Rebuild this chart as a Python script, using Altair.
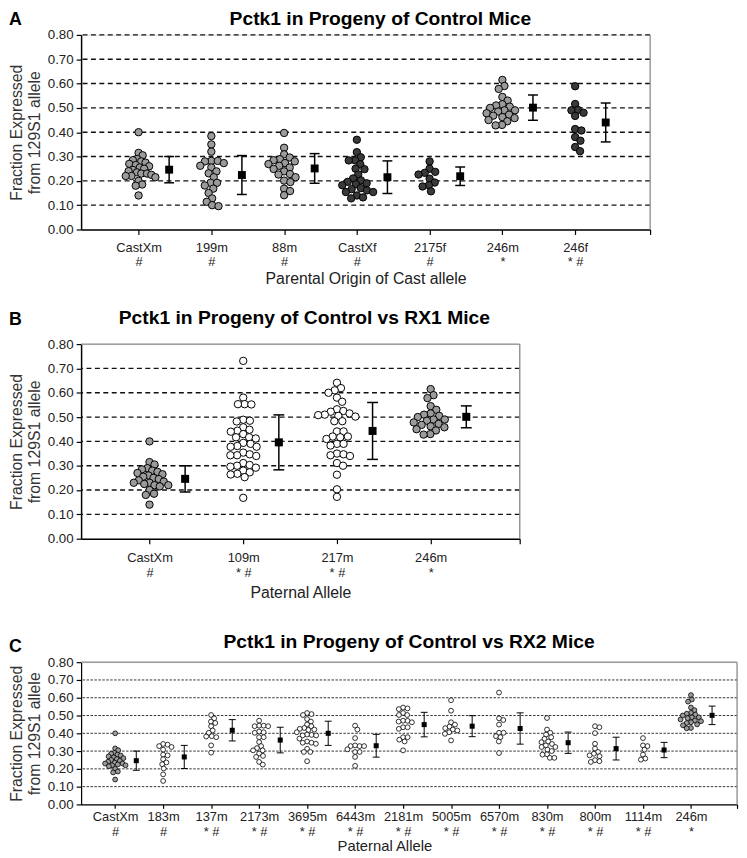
import altair as alt
import pandas as pd

# ---------------- data ----------------
castxm = [0.40, 0.315, 0.305, 0.29, 0.285, 0.28, 0.275, 0.27, 0.265, 0.26, 0.255, 0.25,
          0.245, 0.24, 0.235, 0.23, 0.23, 0.225, 0.22, 0.22, 0.215, 0.20, 0.185, 0.18, 0.14]
g199m = [0.384, 0.35, 0.32, 0.282, 0.282, 0.28, 0.273, 0.262, 0.255, 0.239, 0.231, 0.215,
         0.192, 0.192, 0.181, 0.168, 0.15, 0.128, 0.114, 0.10, 0.096]
g88m = [0.397, 0.336, 0.309, 0.296, 0.289, 0.285, 0.28, 0.273, 0.269, 0.262, 0.255, 0.249,
        0.239, 0.228, 0.226, 0.215, 0.201, 0.195, 0.168, 0.158, 0.141]
castxf = [0.369, 0.318, 0.297, 0.284, 0.284, 0.268, 0.25, 0.248, 0.226, 0.21, 0.202, 0.196,
          0.19, 0.186, 0.182, 0.17, 0.166, 0.161, 0.154, 0.154, 0.14, 0.132, 0.128]
g2175f = [0.28, 0.25, 0.237, 0.233, 0.226, 0.209, 0.193, 0.182, 0.177, 0.157]
g246m = [0.615, 0.59, 0.578, 0.545, 0.53, 0.515, 0.51, 0.505, 0.50, 0.49, 0.49, 0.485,
         0.478, 0.472, 0.468, 0.462, 0.458, 0.45, 0.445, 0.43, 0.428]
g246f = [0.589, 0.516, 0.492, 0.49, 0.48, 0.467, 0.413, 0.407, 0.38, 0.365, 0.339, 0.322]

g109m = [0.731, 0.58, 0.553, 0.553, 0.552, 0.489, 0.485, 0.482, 0.458, 0.448, 0.444, 0.44,
         0.43, 0.417, 0.417, 0.412, 0.394, 0.39, 0.381, 0.378, 0.378, 0.354, 0.347, 0.343,
         0.343, 0.34, 0.311, 0.303, 0.30, 0.296, 0.292, 0.28, 0.273, 0.267, 0.264, 0.253, 0.168]
g217m = [0.641, 0.619, 0.61, 0.60, 0.58, 0.563, 0.532, 0.525, 0.522, 0.515, 0.51, 0.508,
         0.505, 0.502, 0.483, 0.483, 0.441, 0.441, 0.42, 0.42, 0.417, 0.41, 0.39, 0.39,
         0.383, 0.35, 0.347, 0.343, 0.34, 0.311, 0.30, 0.263, 0.203, 0.172]

g183m = [0.34, 0.336, 0.328, 0.323, 0.308, 0.28, 0.276, 0.254, 0.236, 0.226, 0.202, 0.169, 0.132]
g137m = [0.503, 0.484, 0.466, 0.458, 0.44, 0.416, 0.403, 0.384, 0.382, 0.378, 0.332, 0.291]
g2173m = [0.471, 0.443, 0.443, 0.44, 0.44, 0.41, 0.406, 0.403, 0.378, 0.378, 0.351, 0.328,
          0.317, 0.304, 0.304, 0.286, 0.273, 0.267, 0.239, 0.224]
g3695m = [0.514, 0.508, 0.503, 0.48, 0.466, 0.45, 0.44, 0.43, 0.425, 0.421, 0.419, 0.406,
          0.393, 0.391, 0.388, 0.388, 0.37, 0.354, 0.347, 0.347, 0.341, 0.313, 0.295, 0.295, 0.243]
g6443m = [0.443, 0.421, 0.373, 0.332, 0.328, 0.328, 0.328, 0.31, 0.295, 0.295, 0.267, 0.217]
g2181m = [0.545, 0.54, 0.536, 0.514, 0.503, 0.503, 0.471, 0.47, 0.466, 0.462, 0.434, 0.434,
          0.425, 0.378, 0.378, 0.364, 0.354, 0.304]
g5005m = [0.586, 0.527, 0.462, 0.449, 0.438, 0.429, 0.421, 0.416, 0.406, 0.397, 0.36]
g6570m = [0.629, 0.484, 0.475, 0.449, 0.403, 0.403, 0.384, 0.378, 0.354, 0.289]
g830m = [0.486, 0.421, 0.403, 0.393, 0.378, 0.369, 0.354, 0.35, 0.34, 0.332, 0.323, 0.323,
         0.308, 0.30, 0.282, 0.28, 0.262, 0.262]
g800m = [0.44, 0.434, 0.401, 0.341, 0.314, 0.295, 0.285, 0.276, 0.271, 0.249, 0.243, 0.239]
g1114m = [0.373, 0.332, 0.328, 0.308, 0.28, 0.258, 0.252]

A_names = ["CastXm", "199m", "88m", "CastXf", "2175f", "246m", "246f"]
A_sig = ["#", "#", "#", "#", "#", "*", "* #"]
A_fill = ["light", "light", "light", "dark", "dark", "light", "dark"]
A_vals = [castxm, g199m, g88m, castxf, g2175f, g246m, g246f]
A_mean = [0.246, 0.224, 0.251, 0.215, 0.219, 0.501, 0.440]
A_sd = [0.054, 0.080, 0.061, 0.067, 0.038, 0.052, 0.080]

B_names = ["CastXm", "109m", "217m", "246m"]
B_sig = ["#", "* #", "* #", "*"]
B_fill = ["light", "open", "open", "light"]
B_vals = [castxm, g109m, g217m, g246m]
B_mean = [0.246, 0.396, 0.443, 0.501]
B_sd = [0.054, 0.113, 0.117, 0.045]

C_names = ["CastXm", "183m", "137m", "2173m", "3695m", "6443m", "2181m", "5005m",
           "6570m", "830m", "800m", "1114m", "246m"]
C_sig = ["#", "#", "* #", "* #", "* #", "* #", "* #", "* #", "* #", "* #", "* #", "* #", "*"]
C_fill = ["light"] + ["open"] * 11 + ["light"]
C_vals = [castxm, g183m, g137m, g2173m, g3695m, g6443m, g2181m, g5005m, g6570m,
          g830m, g800m, g1114m, g246m]
C_mean = [0.246, 0.267, 0.417, 0.362, 0.400, 0.330, 0.449, 0.440, 0.427, 0.347, 0.314, 0.306, 0.501]
C_sd = [0.054, 0.065, 0.060, 0.072, 0.068, 0.064, 0.069, 0.059, 0.088, 0.060, 0.064, 0.043, 0.052]

Y_TICKS = [round(i * 0.1, 1) for i in range(9)]
FONT = "Liberation Sans"
FILL_DOMAIN = ["light", "dark", "open"]
FILL_RANGE = ["#9b9b9b", "#3a3a3a", "#ffffff"]


def swarm(vals, ypx, d, maxw):
    """Beeswarm layout: horizontal pixel offsets so circles (diameter d) don't overlap,
    squeezed to a maximum half-width."""
    order = sorted(range(len(vals)), key=lambda i: -vals[i])
    placed = []
    offs = [0.0] * len(vals)
    for i in order:
        y = vals[i] * ypx
        ivs = []
        for px, py in placed:
            dy = abs(py - y)
            if dy < d:
                w = (d * d - dy * dy) ** 0.5
                ivs.append((px - w, px + w))
        cands = [0.0] + [e for iv in ivs for e in iv]
        cands.sort(key=lambda c: (round(abs(c), 6), -c))
        for c in cands:
            if all(not (lo + 1e-6 < c < hi - 1e-6) for lo, hi in ivs):
                offs[i] = c
                break
        placed.append((offs[i], y))
    m = max(abs(o) for o in offs)
    if m > maxw:
        offs = [o * maxw / m for o in offs]
    return offs


def panel(names, sigs, fills, vals, means, sds, *, width, height, dom, dot_size, dot_d,
          dot_maxw, dot_sw, sq_size, cap_px, eb_w, mean_off, grid_vals, grid_dash, grid_w,
          grid_color, title, title_dx, title_y, letter, letter_y, xtitle, border_top,
          tick_size, label_pad, label_lh, title_pad, xtitle_size, axis_w, xtitle_x=None):
    xpx = width / (dom[1] - dom[0])
    ypx = height / 0.8
    rows = []
    for gi, (v, f) in enumerate(zip(vals, fills)):
        offs = swarm(v, ypx, dot_d, dot_maxw)
        for val, o in zip(v, offs):
            rows.append({"pos": gi + o / xpx, "value": val, "fill": f})
    dots = pd.DataFrame(rows)
    pos = [i + mean_off for i in range(len(names))]
    stats = pd.DataFrame({"pos": pos, "mean": means,
                          "lo": [m - s for m, s in zip(means, sds)],
                          "hi": [m + s for m, s in zip(means, sds)]})
    stats["cl"] = stats["pos"] - cap_px / xpx
    stats["cr"] = stats["pos"] + cap_px / xpx
    caps = pd.concat([
        stats[["cl", "cr"]].assign(y=stats["lo"]),
        stats[["cl", "cr"]].assign(y=stats["hi"]),
    ], ignore_index=True)

    label_arr = ",".join("['%s','%s']" % (n, s) for n, s in zip(names, sigs))
    xkw = dict(
        values=list(range(len(names))) + [dom[1]],
        labelExpr="[" + label_arr + "][datum.value] || ''",
        title=xtitle, titleFont=FONT, titleFontSize=xtitle_size, titleFontWeight="normal",
        titleColor="#222", titlePadding=title_pad,
        labelFont=FONT, labelFontSize=13, labelColor="#222", labelLineHeight=label_lh,
        labelPadding=label_pad, labelOverlap=False, labelFlush=False,
        tickSize=tick_size, tickColor="black", tickWidth=1.2,
        domainColor="black", domainWidth=axis_w, grid=False,
    )
    if xtitle_x is not None:
        xkw["titleX"] = xtitle_x
    xaxis = alt.Axis(**xkw)
    yaxis = alt.Axis(
        values=Y_TICKS, format=".2f", title=["Fraction Expressed", "from 129S1 allele"],
        titleFont=FONT, titleFontSize=16, titleFontWeight="normal", titleColor="#333",
        titleLineHeight=18, titlePadding=5,
        labelFont=FONT, labelFontSize=13.5, labelColor="#222", labelPadding=3,
        tickSize=5, tickColor="black", tickWidth=1.2,
        domainColor="black", domainWidth=axis_w, grid=False,
    )
    xscale = alt.Scale(domain=dom, nice=False, zero=False)
    yscale = alt.Scale(domain=[0, 0.8], nice=False, zero=False)

    def X(f):
        return alt.X(f, type="quantitative", scale=xscale, axis=xaxis)

    def Y(f):
        return alt.Y(f, type="quantitative", scale=yscale, axis=yaxis)

    grid = alt.Chart(pd.DataFrame({"g": grid_vals})).mark_rule(
        color=grid_color, strokeDash=grid_dash, strokeWidth=grid_w
    ).encode(y=Y("g"))

    one = pd.DataFrame({"k": [0]})
    layers = [grid]
    layers.append(alt.Chart(one).mark_rule(color="#8a8a8a", strokeWidth=1.2).encode(
        x=alt.value(width), y=alt.value(0), y2=alt.value(height)))
    if border_top:
        layers.append(alt.Chart(one).mark_rule(color="#8a8a8a", strokeWidth=1.2).encode(
            x=alt.value(0), x2=alt.value(width), y=alt.value(0)))

    layers.append(alt.Chart(dots).mark_circle(
        size=dot_size, stroke="black", strokeWidth=dot_sw, opacity=1
    ).encode(
        x=X("pos"), y=Y("value"),
        fill=alt.Fill("fill:N", scale=alt.Scale(domain=FILL_DOMAIN, range=FILL_RANGE), legend=None),
    ))
    layers.append(alt.Chart(stats).mark_rule(color="black", strokeWidth=eb_w).encode(
        x=X("pos"), y=Y("lo"), y2="hi"))
    layers.append(alt.Chart(caps).mark_rule(color="black", strokeWidth=eb_w).encode(
        x=X("cl"), x2="cr", y=Y("y")))
    layers.append(alt.Chart(stats).mark_square(size=sq_size, color="black", opacity=1).encode(
        x=X("pos"), y=Y("mean")))
    layers.append(alt.Chart(pd.DataFrame({"t": [title]})).mark_text(
        font=FONT, fontSize=19.5, fontWeight="bold", align="center", baseline="alphabetic",
        color="black"
    ).encode(text="t:N", x=alt.value(width / 2 + title_dx), y=alt.value(title_y)))
    layers.append(alt.Chart(pd.DataFrame({"t": [letter]})).mark_text(
        font=FONT, fontSize=18, fontWeight="bold", align="left", baseline="alphabetic",
        color="black"
    ).encode(text="t:N", x=alt.value(-73), y=alt.value(letter_y)))

    return alt.layer(*layers).properties(width=width, height=height)


pA = panel(A_names, A_sig, A_fill, A_vals, A_mean, A_sd,
           width=576, height=197, dom=[-0.79, 7.03], dot_size=56, dot_d=6.5, dot_maxw=17,
           dot_sw=1, sq_size=64, cap_px=5, eb_w=1.5, mean_off=0.42,
           grid_vals=[0.1, 0.2, 0.3, 0.4, 0.5, 0.6, 0.7, 0.8], grid_dash=[5, 3.5],
           grid_w=1.4, grid_color="#111",
           title="Pctk1 in Progeny of Control Mice", title_dx=15, title_y=-10,
           letter="A", letter_y=-10, xtitle="Parental Origin of Cast allele",
           border_top=False, tick_size=5, label_pad=7, label_lh=14, title_pad=3,
           xtitle_size=16, axis_w=1.5)

pB = panel(B_names, B_sig, B_fill, B_vals, B_mean, B_sd,
           width=444, height=197, dom=[-0.73, 3.95], dot_size=56, dot_d=6.8, dot_maxw=19,
           dot_sw=1, sq_size=66, cap_px=5.5, eb_w=1.5, mean_off=0.38,
           grid_vals=[0.1, 0.2, 0.3, 0.4, 0.5, 0.6, 0.7], grid_dash=[5, 3.5],
           grid_w=1.4, grid_color="#111",
           title="Pctk1 in Progeny of Control vs RX1 Mice", title_dx=4, title_y=-20,
           letter="B", letter_y=-19, xtitle="Paternal Allele",
           border_top=True, tick_size=5, label_pad=8.5, label_lh=15, title_pad=5,
           xtitle_size=16, axis_w=1.5)

pC = panel(C_names, C_sig, C_fill, C_vals, C_mean, C_sd,
           width=664, height=144, dom=[-0.71, 12.96], dot_size=24, dot_d=4.6, dot_maxw=10.5,
           dot_sw=0.8, sq_size=26, cap_px=3.5, eb_w=1, mean_off=0.44,
           grid_vals=[0.1, 0.2, 0.3, 0.4, 0.5, 0.6, 0.7], grid_dash=[2.5, 1.5],
           grid_w=1, grid_color="#333",
           title="Pctk1 in Progeny of Control vs RX2 Mice", title_dx=0, title_y=-14,
           letter="C", letter_y=-10, xtitle="Paternal Allele",
           border_top=True, tick_size=4, label_pad=2.5, label_lh=15, title_pad=0.5,
           xtitle_size=15, axis_w=1.2, xtitle_x=307)

inner = alt.vconcat(pB, pC, spacing=31).resolve_scale(x="independent", y="independent")
chart = alt.vconcat(pA, inner, spacing=20).resolve_scale(
    x="independent", y="independent"
).properties(
    padding={"left": 0, "top": -5, "right": 0, "bottom": -2}
).configure_view(stroke=None).configure(font=FONT)

chart.save("out.html", embed_options={"renderer": "svg", "actions": False})
